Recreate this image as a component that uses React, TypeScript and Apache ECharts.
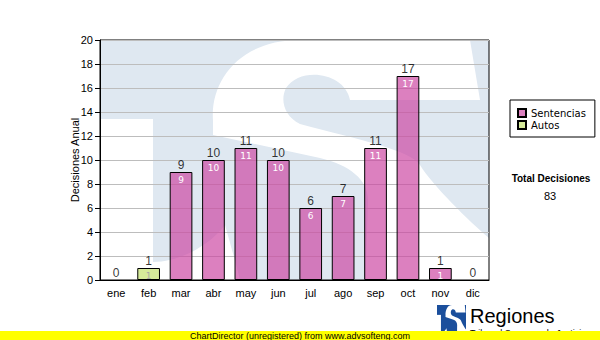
import React, { useEffect, useRef } from 'react';
import * as echarts from 'echarts';

const months = ['ene', 'feb', 'mar', 'abr', 'may', 'jun', 'jul', 'ago', 'sep', 'oct', 'nov', 'dic'];
const sentencias = [0, 0, 9, 10, 11, 10, 6, 7, 11, 17, 1, 0];
const autos = [0, 1, 0, 0, 0, 0, 0, 0, 0, 0, 0, 0];
const seriesNames = ['Sentencias', 'Autos'];
const yAxisName = 'Decisiones Anual';
const totalTitle = 'Total Decisiones';
const totalValue = '83';
const yMin = 0;
const yMax = 20;
const yInterval = 2;
const footerText = 'ChartDirector (unregistered) from www.advsofteng.com';
const logoTitle = 'Regiones';
const logoSub = 'Tribunal Supremo de Justicia';

const totals = months.map((_, i) => sentencias[i] + autos[i]);

// watermark "S" outline in page pixel coordinates
const S_PATH =
  'M 213 121 C 210 80 240 40 300 40 L 470 40 L 480 100 L 350 100 ' +
  'C 345 72 300 66 286 88 C 280 100 284 116 300 124 ' +
  'C 360 140 410 150 420 165 C 432 185 470 222 489 238 L 489 300 L 150 300 L 153 262 ' +
  'C 180 262 210 245 225 225 C 232 250 238 270 245 300 L 365 300 L 368 200 ' +
  'C 368 180 350 165 320 158 L 213 135 Z';

echarts.graphic.registerShape('tsS', echarts.graphic.extendPath(S_PATH, {}));

const LOGO_X = 437;
const LOGO_Y = 305;
const LOGO_W = 29;
const LOGO_H = 30;
const sx = LOGO_W / 389;
const sy = LOGO_H / 240;

const nz = (v: number) => (v === 0 ? '-' : v);

export default function App() {
  const ref = useRef<HTMLDivElement>(null);
  useEffect(() => {
    if (!ref.current) return;
    const chart = echarts.init(ref.current, null, { renderer: 'svg' });
    const innerLabel = {
      show: true,
      position: 'insideTop',
      distance: 3,
      color: '#fff',
      fontSize: 9,
      fontFamily: 'DejaVu Sans',
    };
    const option: any = {
      animation: false,
      backgroundColor: '#ffffff',
      textStyle: { fontFamily: 'Liberation Sans, Arial, sans-serif' },
      grid: {
        left: 100,
        top: 40,
        width: 389,
        height: 240,
        show: true,
        backgroundColor: 'transparent',
        borderColor: '#000',
        borderWidth: 1,
      },
      legend: {
        data: seriesNames,
        orient: 'vertical',
        left: 510,
        top: 100,
        icon: 'rect',
        itemWidth: 8,
        itemHeight: 8,
        itemGap: 2,
        padding: [8, 9, 7, 7],
        borderColor: '#000',
        borderWidth: 1,
        textStyle: { fontFamily: 'DejaVu Sans', fontSize: 10, color: '#000' },
      },
      xAxis: {
        type: 'category',
        data: months,
        axisLine: { lineStyle: { color: '#000', width: 1 } },
        axisTick: { alignWithLabel: true, length: 4, lineStyle: { color: '#000' } },
        axisLabel: { color: '#000', fontSize: 11, margin: 7 },
      },
      yAxis: {
        type: 'value',
        min: yMin,
        max: yMax,
        interval: yInterval,
        name: yAxisName,
        nameLocation: 'middle',
        nameGap: 20,
        nameMoveOverlap: false,
        nameRotate: 90,
        nameTextStyle: { color: '#000', fontSize: 11 },
        axisLine: { show: true, lineStyle: { color: '#000', width: 1 } },
        axisTick: { show: true, length: 5, lineStyle: { color: '#000' } },
        axisLabel: { color: '#000', fontSize: 11, margin: 7 },
        splitLine: { lineStyle: { color: '#bdbdbd', width: 1 } },
      },
      series: [
        {
          name: seriesNames[0],
          type: 'bar',
          stack: 'total',
          barWidth: '70%',
          data: sentencias.map(nz),
          itemStyle: { color: 'rgba(204,68,160,0.68)', borderColor: '#000', borderWidth: 1 },
          label: innerLabel,
        },
        {
          name: seriesNames[1],
          type: 'bar',
          stack: 'total',
          barWidth: '70%',
          data: autos.map(nz),
          itemStyle: { color: 'rgba(200,228,120,0.75)', borderColor: '#000', borderWidth: 1 },
          label: { ...innerLabel, color: '#a8a8a8' },
        },
        {
          name: 'total',
          type: 'scatter',
          data: totals,
          symbol: 'rect',
          symbolSize: 1,
          itemStyle: { color: 'rgba(0,0,0,0)' },
          silent: true,
          z: 5,
          label: {
            show: true,
            position: 'top',
            distance: 1,
            color: '#000',
            fontSize: 12,
            formatter: (p: any) => String(p.value),
          },
        },
      ],
      graphic: [
        { type: 'rect', z: -10, silent: true, shape: { x: 100, y: 40, width: 389, height: 240 }, style: { fill: '#dfe8f1' } },
        { type: 'rect', z: -9, silent: true, shape: { x: 100, y: 119, width: 53, height: 161 }, style: { fill: '#ffffff' } },
        { type: 'tsS', z: -9, silent: true, x: 0, y: 0, style: { fill: '#ffffff' } },
        {
          type: 'text', x: 551, y: 178, silent: true,
          style: { text: totalTitle, fontSize: 10, fontWeight: 'bold', fontFamily: 'Liberation Sans', fill: '#000', align: 'center', verticalAlign: 'middle' },
        },
        {
          type: 'text', x: 550, y: 196, silent: true,
          style: { text: totalValue, fontSize: 11, fontFamily: 'Liberation Sans', fill: '#000', align: 'center', verticalAlign: 'middle' },
        },
        { type: 'rect', z: 10, silent: true, shape: { x: LOGO_X, y: LOGO_Y, width: LOGO_W, height: LOGO_H }, style: { fill: '#1b4f9c' } },
        { type: 'rect', z: 11, silent: true, shape: { x: LOGO_X, y: LOGO_Y + 79 * sy, width: 53 * sx, height: 161 * sy }, style: { fill: '#ffffff' } },
        { type: 'tsS', z: 11, silent: true, x: LOGO_X - 100 * sx, y: LOGO_Y - 40 * sy, scaleX: sx, scaleY: sy, style: { fill: '#ffffff' } },
        {
          type: 'text', x: 470, y: 316, z: 10, silent: true,
          style: { text: logoTitle, fontSize: 20, fontFamily: 'Liberation Sans', fill: '#000', align: 'left', verticalAlign: 'middle' },
        },
        {
          type: 'text', x: 470, y: 328, z: 12, silent: true,
          style: { text: logoSub, fontSize: 9, fontFamily: 'Liberation Sans', fill: '#000', align: 'left', verticalAlign: 'top' },
        },
        { type: 'rect', z: 20, silent: true, shape: { x: 0, y: 331, width: 600, height: 9 }, style: { fill: '#ffff00' } },
        {
          type: 'text', x: 300, y: 335.5, z: 22, silent: true,
          style: { text: footerText, fontSize: 9, fontFamily: 'Liberation Sans', fill: '#000', align: 'center', verticalAlign: 'middle' },
        },
      ],
    };
    chart.setOption(option);
    return () => chart.dispose();
  }, []);
  return <div ref={ref} style={{ position: 'fixed', left: 0, top: 0, width: 600, height: 340 }} />;
}
